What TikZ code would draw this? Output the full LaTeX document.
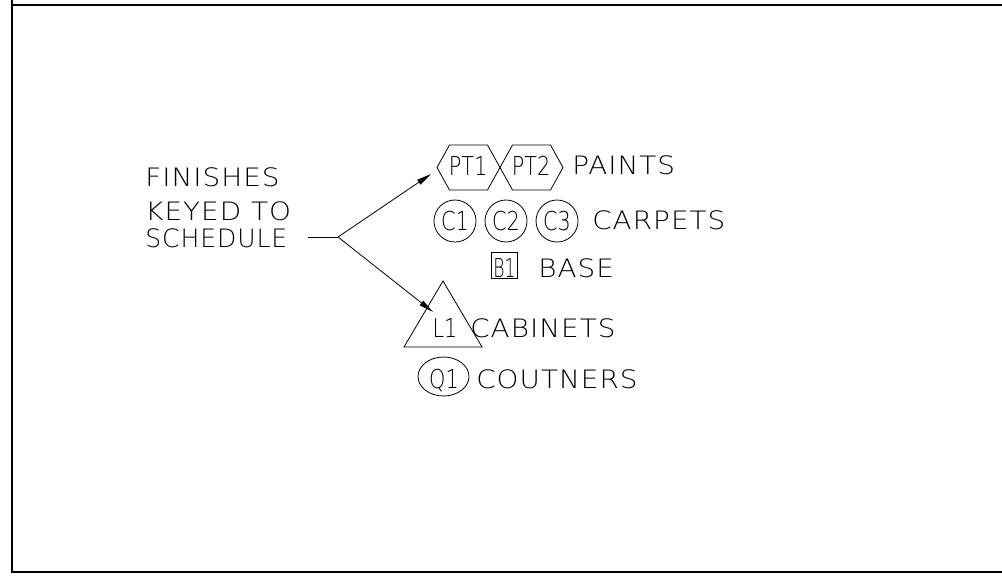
\documentclass[tikz,border=0pt]{standalone}
\usepackage{fontspec}
\newfontfamily\cad{DejaVu Sans}[UprightFont=* ExtraLight, FakeStretch=1.1, LetterSpace=4]
\newfontfamily\cadtag{DejaVu Sans}[UprightFont=* ExtraLight, FakeStretch=0.8]
\newfontfamily\cadnarrow{DejaVu Sans}[UprightFont=* ExtraLight, FakeStretch=0.66]
\usetikzlibrary{arrows.meta,shapes.geometric,calc}
\begin{document}
\begin{tikzpicture}[x=0.75pt,y=-0.75pt,
  lbl/.style={inner sep=0pt,anchor=base west,font=\cad\fontsize{19}{22}\selectfont},
  tag/.style={inner sep=0pt,anchor=base,font=\cadtag\fontsize{19.5}{22}\selectfont},
  outl/.style={draw=black,line width=0.6pt},
  lead/.style={draw=black,line width=0.6pt},
  tipped/.style={-{Triangle[length=11pt,width=4.2pt]}},
  frame/.style={draw=black,line width=1.5pt}]
\useasboundingbox (0,0) rectangle (1002,576);
% frame
\draw[frame] (12,0) -- (12,572);
\draw[frame] (11,5) -- (1002,5);
\draw[frame] (11,572) -- (1002,572);
% legend text
\node[lbl] (l1) at (145,186.5) {FINISHES};
\node[lbl] (l2) at (145,220) {KEYED TO};
\node[lbl] (l3) at (145,247) {\scalebox{0.9}[1]{SCHEDULE}};
\coordinate (s) at (308,237);
\coordinate (j) at (338,237);
\coordinate (ta) at (431,174);
\coordinate (tb) at (433,312);
\draw[lead] (s) -- (j);
\draw[lead,tipped] (j) -- (ta);
\draw[lead,tipped] (j) -- (tb);
% paints hexagons
\coordinate (h1) at (468.5,167.5);
\coordinate (h2) at (531.5,167.5);
\foreach \h in {h1,h2}{
  \draw[outl] ($(\h)+(-31.5,0)$) -- ($(\h)+(-19,-22.5)$) -- ($(\h)+(19,-22.5)$) -- ($(\h)+(31.5,0)$) -- ($(\h)+(19,22.5)$) -- ($(\h)+(-19,22.5)$) -- cycle;
}
\node[tag] (pt1) at (468,175.5) {PT1};
\node[tag] (pt2) at (531,175.5) {PT2};
\node[lbl] (paints) at (572,174) {PAINTS};
% carpets circles
\node[outl,circle,minimum size=31.5pt,inner sep=0pt] (c1) at (455,221) {};
\node[outl,circle,minimum size=31.5pt,inner sep=0pt] (c2) at (506,221) {};
\node[outl,circle,minimum size=31.5pt,inner sep=0pt] (c3) at (557,221) {};
\node[tag] (c1t) at (455,230) {C1};
\node[tag] (c2t) at (506,230) {C2};
\node[tag] (c3t) at (557,230) {C3};
\node[lbl] (carpets) at (592,229) {CARPETS};
% base box
\node[outl,rectangle,minimum width=19.5pt,minimum height=19.5pt,inner sep=0pt] (b1) at (504.5,265) {};
\node[tag,font=\cadnarrow\fontsize{19.5}{22}\selectfont] (b1t) at (504.5,277) {B1};
\node[lbl] (base) at (538,277) {BASE};
% cabinets triangle
\coordinate (ta1) at (443,281);
\coordinate (ta2) at (404,347);
\coordinate (ta3) at (482,347);
\draw[outl] (ta1) -- (ta2) -- (ta3) -- cycle;
\node[tag] (l1t) at (445,337) {L1};
\node[lbl] (cab) at (470,337) {CABINETS};
% counters ellipse
\node[outl,ellipse,minimum width=38.25pt,minimum height=29.25pt,inner sep=0pt] (q1) at (443.5,376.5) {};
\node[tag] (q1t) at (444,388) {Q1};
\node[lbl] (cou) at (476,388) {COUTNERS};
\end{tikzpicture}
\end{document}
